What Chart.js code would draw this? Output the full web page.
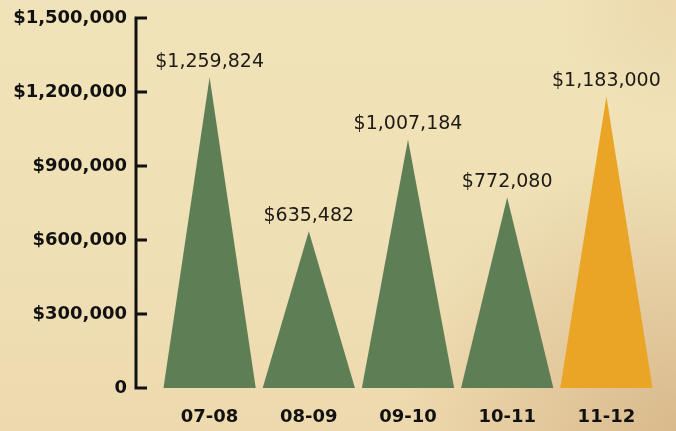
<!DOCTYPE html>
<html>
<head>
<meta charset="utf-8">
<script src="https://cdn.jsdelivr.net/npm/chart.js@4/dist/chart.umd.min.js"></script>
<style>
  html, body { margin: 0; padding: 0; background: #efe1b8; }
  #wrap { width: 676px; height: 431px; position: relative; }
</style>
</head>
<body>
<div id="wrap"><canvas id="chart"></canvas></div>
<script>
(function(){
    'use strict';

    // =========================================
    // DATA
    // =========================================
    var seasons = ['07-08', '08-09', '09-10', '10-11', '11-12'];
    var amounts = [1259824, 635482, 1007184, 772080, 1183000];
    var amountLabels = ['$1,259,824', '$635,482', '$1,007,184', '$772,080', '$1,183,000'];
    var barColors = ['#5e7e56', '#5e7e56', '#5e7e56', '#5e7e56', '#eba526'];
    var yTicks = [0, 300000, 600000, 900000, 1200000, 1500000];

    function numberFormat(num) {
        return num.toString().replace(/\B(?=(\d{3})+(?!\d))/g, ',');
    }

    // =========================================
    // PARCHMENT BACKGROUND
    // =========================================
    var parchment = {
        id: 'parchment',
        beforeDraw: function(chart) {
            var c = chart.ctx, w = chart.width, h = chart.height;
            c.save();
            var g = c.createLinearGradient(0, 0, 0, h);
            g.addColorStop(0, '#f1e3b9');
            g.addColorStop(0.6, '#efdfb5');
            g.addColorStop(1, '#eed9ae');
            c.fillStyle = g;
            c.fillRect(0, 0, w, h);

            var r = c.createRadialGradient(w, h, 0, w, h, 280);
            r.addColorStop(0, 'rgba(200,160,112,0.55)');
            r.addColorStop(1, 'rgba(200,160,112,0)');
            c.fillStyle = r;
            c.fillRect(0, 0, w, h);

            var r2 = c.createRadialGradient(w, 0, 0, w, 0, 120);
            r2.addColorStop(0, 'rgba(226,196,150,0.35)');
            r2.addColorStop(1, 'rgba(226,196,150,0)');
            c.fillStyle = r2;
            c.fillRect(0, 0, w, h);
            c.restore();
        }
    };

    // =========================================
    // TRIANGLE BARS + VALUE LABELS
    // =========================================
    var triangles = {
        id: 'triangles',
        afterDatasetsDraw: function(chart) {
            var c = chart.ctx;
            var meta = chart.getDatasetMeta(0);
            c.save();
            meta.data.forEach(function(el, i) {
                var half = el.width / 2;
                c.beginPath();
                c.moveTo(el.x - half, el.base);
                c.lineTo(el.x, el.y);
                c.lineTo(el.x + half, el.base);
                c.closePath();
                c.fillStyle = barColors[i];
                c.fill();

                c.fillStyle = '#1e1a14';
                c.font = '19px "DejaVu Sans"';
                c.textAlign = 'center';
                c.textBaseline = 'middle';
                c.fillText(amountLabels[i], el.x, el.y - 15);
            });
            c.restore();
        }
    };

    // =========================================
    // Y AXIS LINE WITH TICK MARKS
    // =========================================
    var axisLine = {
        id: 'axisLine',
        afterDraw: function(chart) {
            var c = chart.ctx;
            var y = chart.scales.y;
            var ax = chart.chartArea.left - 24;
            var top = y.getPixelForValue(yTicks[yTicks.length - 1]);
            var bot = y.getPixelForValue(0);
            c.save();
            c.strokeStyle = '#111';
            c.lineWidth = 3;
            c.beginPath();
            c.moveTo(ax, top - 1.5);
            c.lineTo(ax, bot + 1.5);
            yTicks.forEach(function(v) {
                var py = y.getPixelForValue(v);
                c.moveTo(ax, py);
                c.lineTo(ax + 11, py);
            });
            c.stroke();
            c.restore();
        }
    };

    new Chart(document.getElementById('chart'), {
        type: 'bar',
        data: {
            labels: seasons,
            datasets: [{
                data: amounts,
                backgroundColor: 'rgba(0,0,0,0)',
                borderWidth: 0,
                categoryPercentage: 1,
                barPercentage: 0.93
            }]
        },
        options: {
            responsive: true,
            maintainAspectRatio: false,
            animation: false,
            layout: { padding: { top: 18, right: 20, bottom: 0, left: 0 } },
            plugins: {
                legend: { display: false },
                tooltip: { enabled: false }
            },
            scales: {
                y: {
                    min: 0,
                    max: 1500000,
                    afterFit: function(scale) {
                        scale.width = 160;
                        scale.paddingTop = 0;
                        scale.paddingBottom = 0;
                    },
                    afterBuildTicks: function(scale) {
                        scale.ticks = yTicks.map(function(v) { return { value: v }; });
                    },
                    grid: { display: false, drawTicks: false },
                    border: { display: false },
                    ticks: {
                        padding: 33,
                        color: '#111',
                        font: { family: 'DejaVu Sans', size: 18, weight: 'bold' },
                        callback: function(v) { return v === 0 ? '0' : '$' + numberFormat(v); }
                    }
                },
                x: {
                    afterFit: function(scale) {
                        scale.height = 43;
                        scale.paddingLeft = 0;
                        scale.paddingRight = 0;
                    },
                    grid: { display: false, drawTicks: false },
                    border: { display: false },
                    ticks: {
                        padding: 19,
                        maxRotation: 0,
                        color: '#111',
                        font: { family: 'DejaVu Sans', size: 18, weight: 'bold' }
                    }
                }
            }
        },
        plugins: [parchment, triangles, axisLine]
    });

})();
</script>
</body>
</html>
